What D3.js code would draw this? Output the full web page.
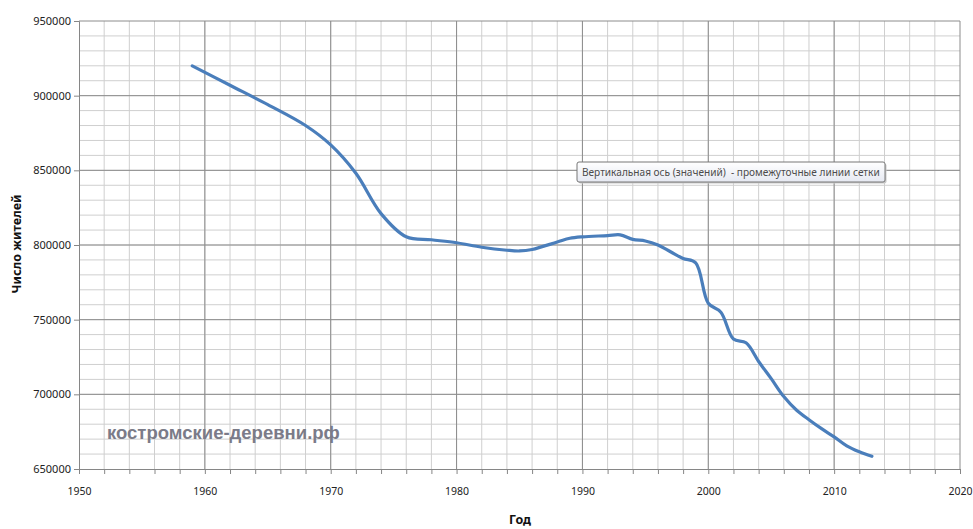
<!doctype html>
<meta charset="utf-8">
<title>Число жителей</title>
<script src="https://cdn.jsdelivr.net/npm/d3@7"></script>
<style>
body { margin: 0; background: #fff; }
svg { display: block; }
.tick text { font-family: "Noto Sans", sans-serif; fill: #222; }
.title { font-family: "Noto Sans", sans-serif; font-size: 12.5px; font-weight: bold; fill: #111; }
</style>
<body>
<svg id="chart" width="973" height="529"></svg>
<script>
// years and population
var years = [1959, 1962, 1965, 1968, 1970, 1972, 1974, 1976, 1978, 1980,
             1982, 1984, 1985, 1986, 1988, 1989, 1990, 1992, 1993, 1994,
             1995, 1996, 1997, 1998, 1999, 2000, 2001, 2002, 2003, 2004,
             2005, 2006, 2007, 2008, 2009, 2010, 2011, 2012, 2013];
var people = [920000, 907000, 894000, 880000, 867000, 848000, 821000, 805500, 803500, 801500,
              798500, 796500, 796000, 797000, 802000, 804500, 805500, 806300, 806800, 803800,
              802700, 800000, 795500, 791000, 788000, 761000, 755000, 737000, 734500, 722000,
              710500, 698500, 689500, 683000, 677000, 671500, 665500, 661500, 658500];

var xTicks = [1950, 1960, 1970, 1980, 1990, 2000, 2010, 2020];
var yTicks = [650000, 700000, 750000, 800000, 850000, 900000, 950000];

var svg = d3.select("#chart");
var plotL = 79, plotR = 960, plotT = 21, plotB = 469;

var x = d3.scaleLinear().domain([1950, 2020]).range([plotL, plotR]);
var y = d3.scaleLinear().domain([650000, 950000]).range([plotB, plotT]);

// minor grid
svg.append("g")
  .selectAll("line")
  .data(d3.range(1952, 2020, 2))
  .join("line")
  .attr("x1", d => x(d)).attr("x2", d => x(d))
  .attr("y1", plotT).attr("y2", plotB)
  .attr("stroke", "#cfcfcf");
svg.append("g")
  .selectAll("line")
  .data(d3.range(660000, 950000, 10000))
  .join("line")
  .attr("x1", plotL).attr("x2", plotR)
  .attr("y1", d => y(d)).attr("y2", d => y(d))
  .attr("stroke", "#cfcfcf");

// major grid
svg.append("g")
  .selectAll("line")
  .data(xTicks.slice(1))
  .join("line")
  .attr("x1", d => x(d)).attr("x2", d => x(d))
  .attr("y1", plotT).attr("y2", plotB)
  .attr("stroke", "#8c8c8c");
svg.append("g")
  .selectAll("line")
  .data(yTicks.slice(1))
  .join("line")
  .attr("x1", plotL).attr("x2", plotR)
  .attr("y1", d => y(d)).attr("y2", d => y(d))
  .attr("stroke", "#8c8c8c");

// axes
var xAxis = svg.append("g")
  .attr("transform", "translate(0," + plotB + ")")
  .call(d3.axisBottom(x).tickValues(d3.range(1950, 2021, 2)).tickSize(5)
        .tickFormat(d => d % 10 === 0 ? d : ""));
xAxis.select(".domain").attr("stroke", "#868686");
xAxis.selectAll(".tick line").attr("stroke", "#868686");
xAxis.selectAll(".tick text").attr("font-size", 10.5).attr("dy", "1.75em");

var yAxis = svg.append("g")
  .attr("transform", "translate(" + plotL + ",0)")
  .call(d3.axisLeft(y).tickValues(yTicks).tickSize(5).tickPadding(3).tickFormat(d3.format("d")));
yAxis.select(".domain").attr("stroke", "#868686");
yAxis.selectAll(".tick line").attr("stroke", "#868686");
yAxis.selectAll(".tick text").attr("font-size", 11);

// the line
var line = d3.line()
  .x((d, i) => x(years[i]))
  .y(d => y(d))
  .curve(d3.curveCatmullRom.alpha(0.5));

svg.append("path")
  .datum(people)
  .attr("d", line)
  .attr("fill", "none")
  .attr("stroke", "#4a7ebb")
  .attr("stroke-width", 3.2)
  .attr("stroke-linecap", "round");

// watermark
svg.append("text")
  .attr("x", 107).attr("y", 439)
  .attr("font-family", "Liberation Sans, Arial, sans-serif")
  .attr("font-size", 18.5).attr("font-weight", "bold")
  .attr("fill", "#7b7b88")
  .text("костромские-деревни.рф");

// tooltip
var tip = svg.append("g").attr("transform", "translate(577,162)");
var grad = svg.append("defs").append("linearGradient")
  .attr("id", "tipbg").attr("x1", 0).attr("x2", 0).attr("y1", 0).attr("y2", 1);
grad.append("stop").attr("offset", 0).attr("stop-color", "#ffffff");
grad.append("stop").attr("offset", 1).attr("stop-color", "#e6e9f2");
tip.append("rect")
  .attr("x", 1.5).attr("y", 1.5).attr("width", 308).attr("height", 20)
  .attr("rx", 2).attr("fill", "#c8c8c8");
tip.append("rect")
  .attr("width", 308).attr("height", 20)
  .attr("rx", 2).attr("fill", "url(#tipbg)").attr("stroke", "#767676");
tip.append("text")
  .attr("x", 5).attr("y", 14)
  .attr("font-family", "Noto Sans, sans-serif").attr("font-size", 10.1)
  .attr("fill", "#4c4c4c").attr("xml:space", "preserve")
  .text("Вертикальная ось (значений)  - промежуточные линии сетки");

// axis titles
svg.append("text").attr("class", "title")
  .attr("x", 520).attr("y", 524)
  .attr("text-anchor", "middle")
  .text("Год");
svg.append("text").attr("class", "title")
  .attr("transform", "translate(21,244) rotate(-90)")
  .attr("text-anchor", "middle")
  .text("Число жителей");
</script>
</body>
